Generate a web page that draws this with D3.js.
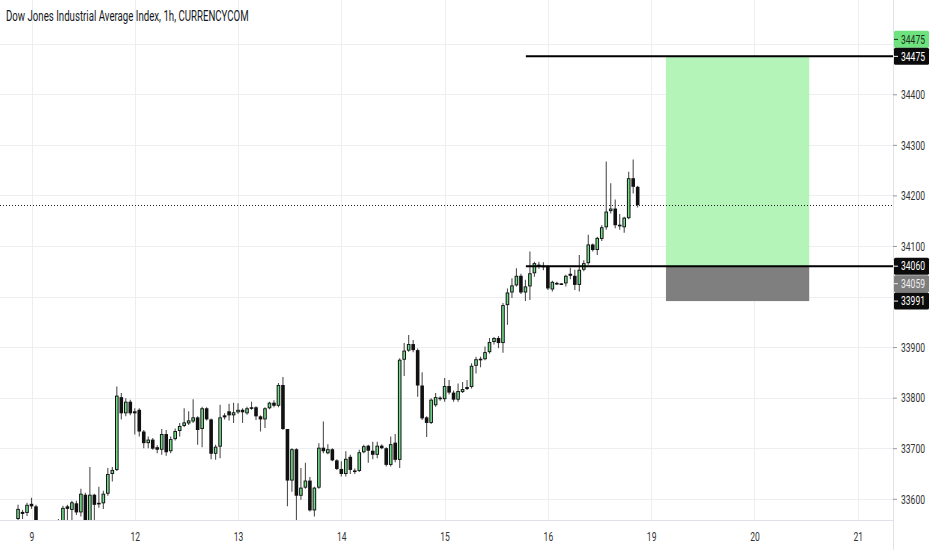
<!DOCTYPE html>
<html>
<head>
<meta charset="utf-8">
<script src="https://cdn.jsdelivr.net/npm/d3@7"></script>
<style>
  html, body { margin: 0; padding: 0; background: #ffffff; }
  svg { display: block; }
</style>
</head>
<body>
<svg id="chart" width="932" height="550"></svg>
<script>
// ---------------- DATA ----------------
const title = "Dow Jones Industrial Average Index, 1h, CURRENCYCOM";
const firstBar = -3; // bar index of first candle (bar 0 = first hour of day "9")
const opens = [
  33560,33570,33572,33590,33585,33540,33530,33535,33528,33522,
  33530,33585,33578,33591,33573,33608,33545,33608,33590,33591,
  33610,33649,33657,33801,33769,33792,33769,33776,33733,33710,
  33717,33702,33697,33728,33694,33718,33734,33744,33749,33753,
  33761,33738,33779,33757,33689,33703,33761,33773,33765,33771,
  33776,33769,33781,33781,33763,33757,33779,33790,33784,33825,
  33738,33636,33698,33606,33622,33636,33577,33622,33701,33690,
  33698,33676,33659,33649,33683,33656,33655,33692,33705,33695,
  33687,33705,33700,33667,33711,33677,33875,33893,33906,33894,
  33824,33761,33750,33785,33800,33797,33823,33810,33796,33811,
  33817,33821,33863,33874,33876,33890,33910,33918,33908,33983,
  34008,34022,34041,34008,34020,34046,34063,34061,34060,34014,
  34027,34026,34026,34041,34041,34023,34053,34066,34103,34092,
  34114,34137,34169,34174,34142,34137,34155,34234,34217
];
const highs = [
  33588,33578,33592,33602,33588,33550,33545,33548,33540,33560,
  33586,33588,33596,33596,33620,33612,33663,33610,33624,33616,
  33661,33663,33822,33809,33799,33796,33779,33779,33736,33723,
  33720,33706,33738,33736,33723,33739,33750,33779,33773,33797,
  33763,33782,33781,33759,33707,33786,33769,33788,33790,33789,
  33779,33782,33792,33783,33765,33781,33792,33795,33829,33841,
  33738,33700,33700,33661,33671,33643,33624,33710,33753,33708,
  33700,33678,33674,33694,33687,33660,33697,33707,33707,33713,
  33713,33708,33702,33723,33728,33878,33908,33924,33914,33897,
  33850,33763,33799,33809,33803,33839,33835,33814,33828,33831,
  33835,33868,33881,33881,33901,33918,33920,33922,33987,34016,
  34036,34056,34045,34033,34089,34069,34069,34068,34062,34031,
  34029,34027,34043,34057,34053,34082,34072,34122,34105,34118,
  34141,34267,34224,34192,34163,34158,34247,34271,34219
];
const lows = [
  33550,33560,33566,33580,33530,33520,33515,33518,33510,33515,
  33525,33555,33552,33568,33565,33535,33540,33552,33582,33580,
  33606,33634,33655,33757,33763,33765,33727,33723,33700,33700,
  33697,33690,33687,33685,33690,33715,33723,33742,33746,33750,
  33707,33702,33755,33678,33677,33680,33757,33755,33750,33768,
  33750,33766,33776,33756,33733,33740,33777,33781,33781,33736,
  33585,33614,33555,33598,33620,33575,33565,33620,33690,33688,
  33674,33657,33644,33644,33649,33649,33653,33690,33671,33678,
  33680,33698,33664,33664,33672,33661,33843,33891,33890,33802,
  33756,33722,33748,33782,33794,33792,33806,33792,33792,33809,
  33815,33818,33848,33860,33874,33887,33905,33898,33889,33944,
  33997,34020,34005,33991,33993,34039,34055,34052,34013,34010,
  34023,34023,34020,34034,34013,34010,34050,34063,34089,34082,
  34110,34132,34164,34135,34132,34126,34153,34204,34176
];
const closes = [
  33580,33574,33588,33585,33540,33530,33535,33528,33522,33530,
  33582,33580,33593,33573,33610,33545,33608,33588,33592,33610,
  33649,33657,33804,33769,33792,33769,33773,33733,33710,33717,
  33699,33697,33728,33692,33718,33734,33744,33751,33755,33761,
  33736,33779,33757,33689,33703,33761,33765,33765,33771,33776,
  33771,33779,33779,33763,33757,33779,33790,33784,33825,33738,
  33636,33698,33606,33622,33636,33577,33622,33701,33694,33698,
  33676,33659,33649,33679,33657,33655,33692,33704,33695,33687,
  33705,33700,33667,33708,33677,33875,33893,33906,33894,33824,
  33759,33750,33796,33801,33797,33823,33810,33796,33813,33817,
  33821,33863,33876,33877,33890,33910,33918,33908,33983,34008,
  34022,34041,34008,34020,34046,34066,34061,34060,34016,34029,
  34026,34025,34041,34045,34023,34053,34066,34103,34092,34116,
  34137,34168,34174,34141,34140,34156,34234,34217,34181
];
const dayLabels = ["9", "12", "13", "14", "15", "16", "19", "20", "21"];
const dayStartBars = [0, 23, 46, 69, 92, 115, 138, 161, 184];
const priceGridValues = [33600, 33700, 33800, 33900, 34000, 34100, 34200, 34300, 34400, 34500];
const priceTickLabels = [33600, 33700, 33800, 33900, 34100, 34200, 34300, 34400];
const targetPrice = 34475;
const entryPrice = 34060;
const stopPrice = 33991;
const lastPrice = 34181;
const levelLineStartBar = 110.1;
const positionStartBar = 141.3;
const positionEndBar = 173.2;
// axis badge labels
const badgeTexts = ["34475", "34475", "34060", "34059", "33991"];
const badgePrices = [34475, 34475, 34060, 34059, 33991];
const badgeKinds = ["target", "line", "line", "gray", "line"];

// ---------------- LAYOUT ----------------
const W = 932, H = 550;
const plotRight = 893, plotBottom = 520;
const svg = d3.select("#chart");
const fontFam = "Roboto, 'Liberation Sans', sans-serif";

// draw a text horizontally condensed to a target width (the source uses a narrow UI font)
function condensedText(parent, str, px, py, size, width, anchor, fill) {
  const t = parent.append("text")
    .attr("x", 0).attr("y", 0)
    .attr("fill", fill)
    .attr("text-anchor", anchor)
    .style("font-family", fontFam)
    .style("font-size", size + "px")
    .text(str);
  const natural = t.node().getComputedTextLength() || width;
  const s = width / natural;
  t.attr("transform", `translate(${px},${py}) scale(${s},1)`);
  return t;
}

const x = d3.scaleLinear().domain([0, 184]).range([31.5, 857.7]);
const y = d3.scaleLinear().domain([33558, 34586.5]).range([plotBottom, 0]);

const defs = svg.append("defs");
defs.append("clipPath").attr("id", "plotClip")
  .append("rect").attr("x", 0).attr("y", 0).attr("width", plotRight).attr("height", plotBottom);

svg.append("rect").attr("width", W).attr("height", H).attr("fill", "#ffffff");

// grid
const grid = svg.append("g").attr("clip-path", "url(#plotClip)");
grid.selectAll("line.h").data(priceGridValues).enter().append("line")
  .attr("x1", 0).attr("x2", plotRight)
  .attr("y1", d => Math.round(y(d)) + 0.5).attr("y2", d => Math.round(y(d)) + 0.5)
  .attr("stroke", "#eceef2").attr("stroke-width", 1);
grid.selectAll("line.v").data(dayStartBars).enter().append("line")
  .attr("x1", d => Math.round(x(d)) + 0.5).attr("x2", d => Math.round(x(d)) + 0.5)
  .attr("y1", 0).attr("y2", plotBottom)
  .attr("stroke", "#eceef2").attr("stroke-width", 1);

const plot = svg.append("g").attr("clip-path", "url(#plotClip)");

// position tool rectangles
plot.append("rect")
  .attr("x", x(positionStartBar)).attr("width", x(positionEndBar) - x(positionStartBar))
  .attr("y", y(targetPrice)).attr("height", y(entryPrice) - y(targetPrice))
  .attr("fill", "#b4f4b8");
plot.append("rect")
  .attr("x", x(positionStartBar)).attr("width", x(positionEndBar) - x(positionStartBar))
  .attr("y", y(entryPrice)).attr("height", y(stopPrice) - y(entryPrice))
  .attr("fill", "#7f7f7f");

// last price dotted line
plot.append("line")
  .attr("x1", 0).attr("x2", plotRight)
  .attr("y1", Math.round(y(lastPrice)) + 0.5).attr("y2", Math.round(y(lastPrice)) + 0.5)
  .attr("stroke", "#222").attr("stroke-width", 1).attr("stroke-dasharray", "1,2");

// candles
const candles = opens.map((o, k) => ({
  i: firstBar + k, o: o, h: highs[k], l: lows[k], c: closes[k]
}));
const cg = plot.append("g");
candles.forEach(d => {
  const cx = x(d.i);
  cg.append("line")
    .attr("x1", cx).attr("x2", cx)
    .attr("y1", y(d.h)).attr("y2", y(d.l))
    .attr("stroke", "#505050").attr("stroke-width", 1.1);
  const top = y(Math.max(d.o, d.c));
  const bot = y(Math.min(d.o, d.c));
  const hgt = Math.max(1.6, bot - top);
  cg.append("rect")
    .attr("x", cx - 1.8).attr("width", 3.6)
    .attr("y", top).attr("height", hgt)
    .attr("fill", "#111");
  if (d.c >= d.o && hgt > 2.2) {
    cg.append("rect")
      .attr("x", cx - 0.8).attr("width", 1.6)
      .attr("y", top + 0.9).attr("height", hgt - 1.8)
      .attr("fill", "#72de8a");
  }
});

// horizontal level lines
[targetPrice, entryPrice].forEach(p => {
  plot.append("line")
    .attr("x1", x(levelLineStartBar)).attr("x2", plotRight)
    .attr("y1", y(p)).attr("y2", y(p))
    .attr("stroke", "#000").attr("stroke-width", 2);
});

// axes borders
svg.append("line").attr("x1", 0).attr("x2", plotRight)
  .attr("y1", plotBottom + 0.5).attr("y2", plotBottom + 0.5)
  .attr("stroke", "#dfe2e8");
svg.append("line").attr("x1", plotRight + 0.5).attr("x2", plotRight + 0.5)
  .attr("y1", 0).attr("y2", H)
  .attr("stroke", "#dfe2e8");

// right price axis (ticks via d3 axis, labels condensed)
const yAxis = d3.axisRight(y).tickValues(priceTickLabels).tickSize(4).tickFormat("");
const ya = svg.append("g").attr("transform", `translate(${plotRight},0)`).call(yAxis);
ya.select(".domain").remove();
ya.selectAll(".tick line").attr("stroke", "#999");
ya.selectAll(".tick").each(function(d) {
  condensedText(d3.select(this), d3.format("d")(d), 8, 4.3, 12, 24, "start", "#333");
});

// bottom time axis
const xAxis = d3.axisBottom(x).tickValues(dayStartBars).tickSize(0).tickFormat("");
const xa = svg.append("g").attr("transform", `translate(0,${plotBottom})`).call(xAxis);
xa.select(".domain").remove();
xa.selectAll(".tick").each(function(d, k) {
  condensedText(d3.select(this), dayLabels[k], 0, 21, 13, dayLabels[k].length * 4.8, "middle", "#333");
});

// axis badges
const badgeH = 17;
const badgeStyle = {
  target: { fill: "#6ee27f", text: "#1d2e1d" },
  line:   { fill: "#0b0b0b", text: "#ffffff" },
  gray:   { fill: "#7e7e7e", text: "#eeeeee" }
};
// stacking offsets (in badge heights) to avoid overlaps
const badgeShift = [-1, 0, 0, 1, 0];
const bg = svg.append("g");
badgeTexts.forEach((t, k) => {
  const cy = y(badgePrices[k]) + badgeShift[k] * badgeH;
  const st = badgeStyle[badgeKinds[k]];
  bg.append("rect")
    .attr("x", plotRight + 1).attr("y", cy - badgeH / 2)
    .attr("width", 35).attr("height", badgeH)
    .attr("rx", 1.5)
    .attr("fill", st.fill);
  bg.append("line")
    .attr("x1", plotRight + 1).attr("x2", plotRight + 5)
    .attr("y1", cy).attr("y2", cy)
    .attr("stroke", st.text).attr("stroke-width", 1);
  condensedText(bg, t, plotRight + 8, cy + 4.3, 12, 24, "start", st.text);
});

// title
condensedText(svg, title, 6, 21, 14, 243, "start", "#131722");
</script>
</body>
</html>
